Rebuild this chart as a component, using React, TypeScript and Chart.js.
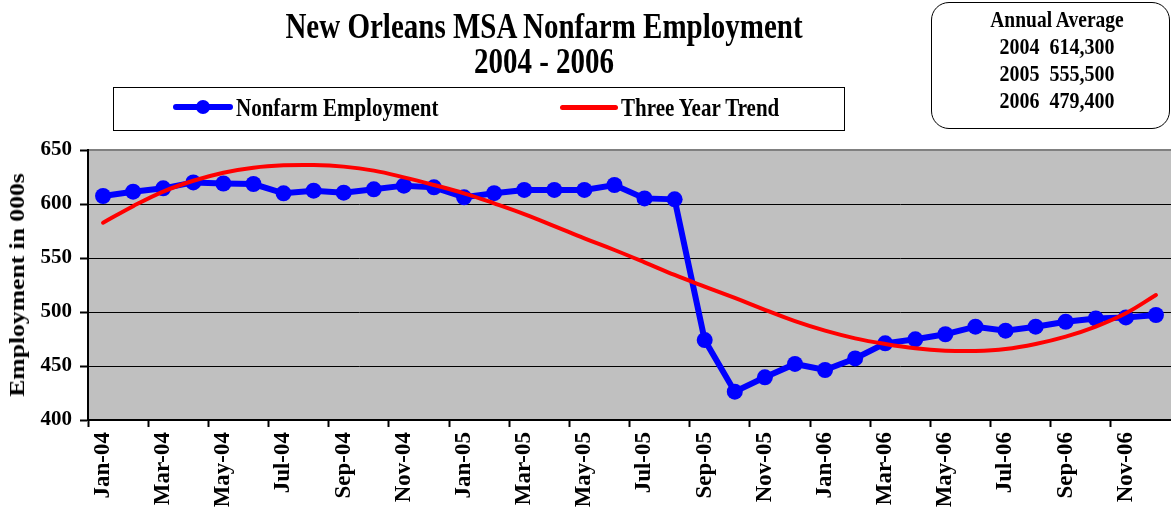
import React, { useEffect, useRef } from 'react';
import { Chart, registerables } from 'chart.js';

Chart.register(...registerables);

const months = [
  'Jan-04', 'Feb-04', 'Mar-04', 'Apr-04', 'May-04', 'Jun-04', 'Jul-04', 'Aug-04', 'Sep-04', 'Oct-04', 'Nov-04', 'Dec-04',
  'Jan-05', 'Feb-05', 'Mar-05', 'Apr-05', 'May-05', 'Jun-05', 'Jul-05', 'Aug-05', 'Sep-05', 'Oct-05', 'Nov-05', 'Dec-05',
  'Jan-06', 'Feb-06', 'Mar-06', 'Apr-06', 'May-06', 'Jun-06', 'Jul-06', 'Aug-06', 'Sep-06', 'Oct-06', 'Nov-06', 'Dec-06',
];

const nonfarmEmployment = [
  607.4, 611.4, 614.5, 620.0, 619.0, 618.5, 609.9, 612.3, 610.5, 613.6, 617.0, 615.4,
  606.2, 610.0, 613.0, 613.0, 613.0, 617.6, 605.2, 604.3, 474.0, 426.2, 439.5, 451.9,
  446.3, 457.0, 471.0, 474.7, 479.4, 486.4, 482.7, 486.4, 491.0, 494.0, 495.0, 497.2,
];

const threeYearTrend = [
  582.7, 598.0, 611.5, 621.5, 629.0, 633.6, 635.8, 636.1, 634.6, 630.9, 624.7, 617.6,
  609.9, 600.6, 590.7, 579.6, 568.2, 557.4, 546.0, 534.3, 523.5, 513.0, 502.0, 491.5,
  482.7, 475.6, 470.4, 466.4, 464.2, 463.9, 465.7, 470.4, 477.2, 486.5, 498.8, 515.7,
];

const yMin = 400;
const yMax = 650;
const yStep = 50;

const titleLines = ['New Orleans MSA Nonfarm Employment', '2004 - 2006'];
const seriesNames = ['Nonfarm Employment', 'Three Year Trend'];
const yAxisTitle = 'Employment in 000s';
const annualHeader = 'Annual Average';
const annualYears = ['2004', '2005', '2006'];
const annualValues = ['614,300', '555,500', '479,400'];

const FONT = "'Times New Roman', 'Liberation Serif', Times, serif";
const BLUE = '#0000FF';
const RED = '#FF0000';
const STRETCH = 1.2;

const plotBackground = {
  id: 'plotBackground',
  beforeDraw(chart: any) {
    const { ctx, chartArea: a } = chart;
    ctx.save();
    ctx.fillStyle = '#C0C0C0';
    ctx.fillRect(a.left, a.top, a.right - a.left, a.bottom - a.top);
    ctx.strokeStyle = '#808080';
    ctx.lineWidth = 2;
    ctx.beginPath();
    ctx.moveTo(a.left, a.top);
    ctx.lineTo(a.right, a.top);
    ctx.stroke();
    ctx.restore();
  },
};

// Text whose baseline sits at `baseline`, stretched vertically around it.
function StretchedText(props: {
  text: string;
  left: number;
  width?: number;
  baseline: number;
  size: number;
  align?: 'left' | 'center';
  sy?: number;
}) {
  const { text, left, width, baseline, size, align = 'left', sy = STRETCH } = props;
  const lh = Math.round(size * 1.2);
  // Liberation Serif: ascent 0.891, descent 0.216
  const base = (lh - size * 1.107) / 2 + size * 0.891;
  return (
    <div
      style={{
        position: 'absolute',
        left,
        width,
        top: baseline - base,
        height: lh,
        lineHeight: `${lh}px`,
        fontSize: size,
        fontFamily: FONT,
        fontWeight: 'bold',
        color: '#000',
        whiteSpace: 'pre',
        textAlign: align,
        transform: `scaleY(${sy})`,
        transformOrigin: `50% ${base}px`,
      }}
    >
      {text}
    </div>
  );
}

export default function App() {
  const canvasRef = useRef<HTMLCanvasElement | null>(null);

  useEffect(() => {
    const canvas = canvasRef.current;
    if (!canvas) return;
    const chart = new Chart(canvas, {
      type: 'line',
      data: {
        labels: months,
        datasets: [
          {
            label: seriesNames[0],
            data: nonfarmEmployment,
            borderColor: BLUE,
            backgroundColor: BLUE,
            borderWidth: 6,
            pointRadius: 8,
            pointBorderWidth: 0,
            pointBackgroundColor: BLUE,
            tension: 0,
            order: 1,
          },
          {
            label: seriesNames[1],
            data: threeYearTrend,
            borderColor: RED,
            backgroundColor: RED,
            borderWidth: 4,
            pointRadius: 0,
            tension: 0.4,
            borderCapStyle: 'round',
            order: 0,
          },
        ],
      },
      options: {
        responsive: false,
        maintainAspectRatio: false,
        animation: false,
        layout: { autoPadding: false, padding: { top: 150, left: 0, right: 0, bottom: 0 } },
        plugins: {
          legend: { display: false },
          tooltip: { enabled: false },
          title: { display: false },
        },
        scales: {
          x: {
            type: 'category',
            offset: true,
            grid: {
              offset: true,
              drawOnChartArea: false,
              drawTicks: true,
              tickLength: 7,
              tickWidth: 2,
              color: (c: any) => (typeof c.index === 'number' && c.index % 2 === 0 ? '#000' : 'rgba(0,0,0,0)'),
            },
            border: { display: true, color: '#000', width: 2 },
            ticks: {
              autoSkip: false,
              maxRotation: 90,
              minRotation: 90,
              padding: 5,
              color: '#000',
              font: { family: FONT, size: 23, weight: 'bold' },
              callback: (_v: any, i: number) => (i % 2 === 0 ? months[i] : ''),
            },
            afterFit: (s: any) => {
              s.height = 88;
              s.paddingLeft = 0;
              s.paddingRight = 0;
            },
          },
          y: {
            min: yMin,
            max: yMax,
            ticks: { stepSize: yStep, padding: 8, color: '#000', font: { family: FONT, size: 21, weight: 'bold' } },
            grid: {
              color: (c: any) => (c.tick && c.tick.value === yMax ? '#808080' : '#000'),
              tickColor: '#000',
              tickLength: 8,
              tickWidth: 2,
              lineWidth: 1,
            },
            border: { display: true, color: '#000', width: 2 },
            title: { display: false, text: yAxisTitle },
            afterFit: (s: any) => {
              s.width = 88;
              s.paddingTop = 0;
              s.paddingBottom = 0;
            },
          },
        },
      },
      plugins: [plotBackground],
    } as any);
    return () => chart.destroy();
  }, []);

  return (
    <div style={{ position: 'absolute', left: 0, top: 0, width: 1171, height: 508, overflow: 'hidden', background: '#fff' }}>
      <canvas ref={canvasRef} width={1171} height={508} style={{ position: 'absolute', left: 0, top: 0 }} />

      <StretchedText text={titleLines[0]} left={0} width={1088} baseline={38} size={29} align="center" sy={1.22} />
      <StretchedText text={titleLines[1]} left={0} width={1088} baseline={73} size={29} align="center" sy={1.22} />

      <div style={{ position: 'absolute', left: 113, top: 87, width: 732, height: 44, border: '1px solid #000', boxSizing: 'border-box' }} />
      <div style={{ position: 'absolute', left: 173, top: 104, width: 60, height: 6, background: BLUE, borderRadius: 3 }} />
      <div style={{ position: 'absolute', left: 196, top: 100, width: 14, height: 14, background: BLUE, borderRadius: '50%' }} />
      <StretchedText text={seriesNames[0]} left={236} baseline={117} size={21} />
      <div style={{ position: 'absolute', left: 560, top: 105, width: 58, height: 5, background: RED, borderRadius: 2.5 }} />
      <StretchedText text={seriesNames[1]} left={621} baseline={117} size={21} />

      <div style={{ position: 'absolute', left: 931, top: 2, width: 239, height: 127, border: '1.5px solid #000', borderRadius: 18, boxSizing: 'border-box' }} />
      <StretchedText text={annualHeader} left={957} width={200} baseline={27} size={19.5} align="center" sy={1.2} />
      {annualYears.map((y, i) => (
        <StretchedText key={y} text={`${y}  ${annualValues[i]}`} left={957} width={200} baseline={54 + i * 27} size={20} align="center" sy={1.18} />
      ))}

      <div
        style={{
          position: 'absolute',
          left: 17 - 150,
          top: 285 - 12,
          width: 300,
          height: 24,
          lineHeight: '24px',
          textAlign: 'center',
          fontFamily: FONT,
          fontWeight: 'bold',
          fontSize: 20.5,
          color: '#000',
          whiteSpace: 'pre',
          transform: 'rotate(-90deg) scaleX(1.25)',
          transformOrigin: '50% 50%',
        }}
      >
        {yAxisTitle}
      </div>
    </div>
  );
}
